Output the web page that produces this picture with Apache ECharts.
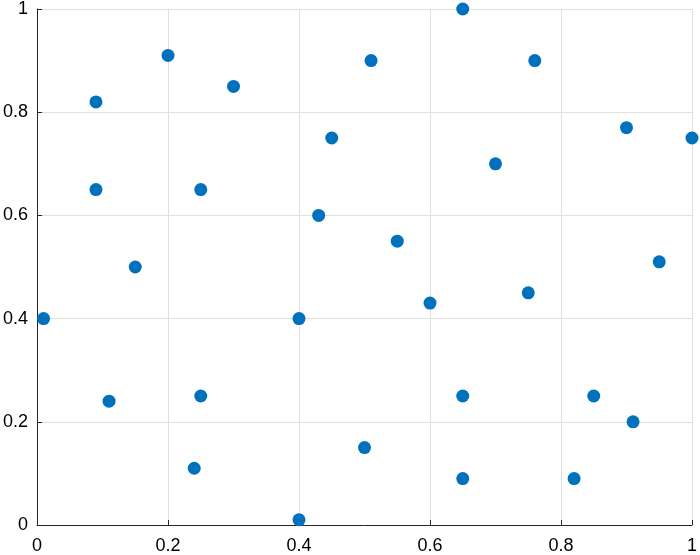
<!DOCTYPE html>
<html>
<head>
<meta charset="utf-8">
<script src="https://cdn.jsdelivr.net/npm/echarts@6/dist/echarts.min.js"></script>
<style>html,body{margin:0;padding:0;background:#fff}#c{width:700px;height:555px}</style>
</head>
<body>
<div id="c"></div>
<script>
var xValues = [1.00, 0.01, 0.09, 0.09, 0.20, 0.30, 0.15, 0.11, 0.25, 0.25, 0.24, 0.40, 0.40, 0.45, 0.43, 0.51, 0.50, 0.55, 0.60, 0.65, 0.65, 0.65, 0.70, 0.76, 0.75, 0.85, 0.82, 0.90, 0.91, 0.95];
var yValues = [0.75, 0.40, 0.82, 0.65, 0.91, 0.85, 0.50, 0.24, 0.65, 0.25, 0.11, 0.40, 0.01, 0.75, 0.60, 0.90, 0.15, 0.55, 0.43, 1.00, 0.25, 0.09, 0.70, 0.90, 0.45, 0.25, 0.09, 0.77, 0.20, 0.51];
var xTicks = [0, 0.2, 0.4, 0.6, 0.8, 1];
var yTicks = [0, 0.2, 0.4, 0.6, 0.8, 1];

var pts = xValues.map(function (x, i) { return [x, yValues[i]]; });
var fmt = function (v) { return String(Math.round(v * 10) / 10); };
var chart = echarts.init(document.getElementById('c'));
var labelBase = { color: '#000', fontSize: 18, fontFamily: 'Liberation Sans, Arial, sans-serif', formatter: fmt };
var axisCommon = {
  type: 'value', min: 0, max: 1, interval: 0.2,
  axisLine: { show: true, onZero: false, lineStyle: { color: '#262626', width: 1 } },
  axisTick: { show: true, inside: true, length: 5, lineStyle: { color: '#262626' } },
  splitLine: { show: true, lineStyle: { color: '#dfdfdf', width: 1 } }
};
chart.setOption({
  animation: false,
  grid: { left: 36, right: 8, top: 8, bottom: 29, containLabel: false },
  xAxis: Object.assign({}, axisCommon, { axisLabel: Object.assign({}, labelBase, { margin: 12 }) }),
  yAxis: Object.assign({}, axisCommon, { axisLabel: Object.assign({}, labelBase, { margin: 9, padding: [7, 0, 0, 0] }) }),
  series: [{
    type: 'scatter', data: pts, symbolSize: 13, clip: false,
    itemStyle: { color: '#0072BD', opacity: 1 }
  }]
});
</script>
</body>
</html>
